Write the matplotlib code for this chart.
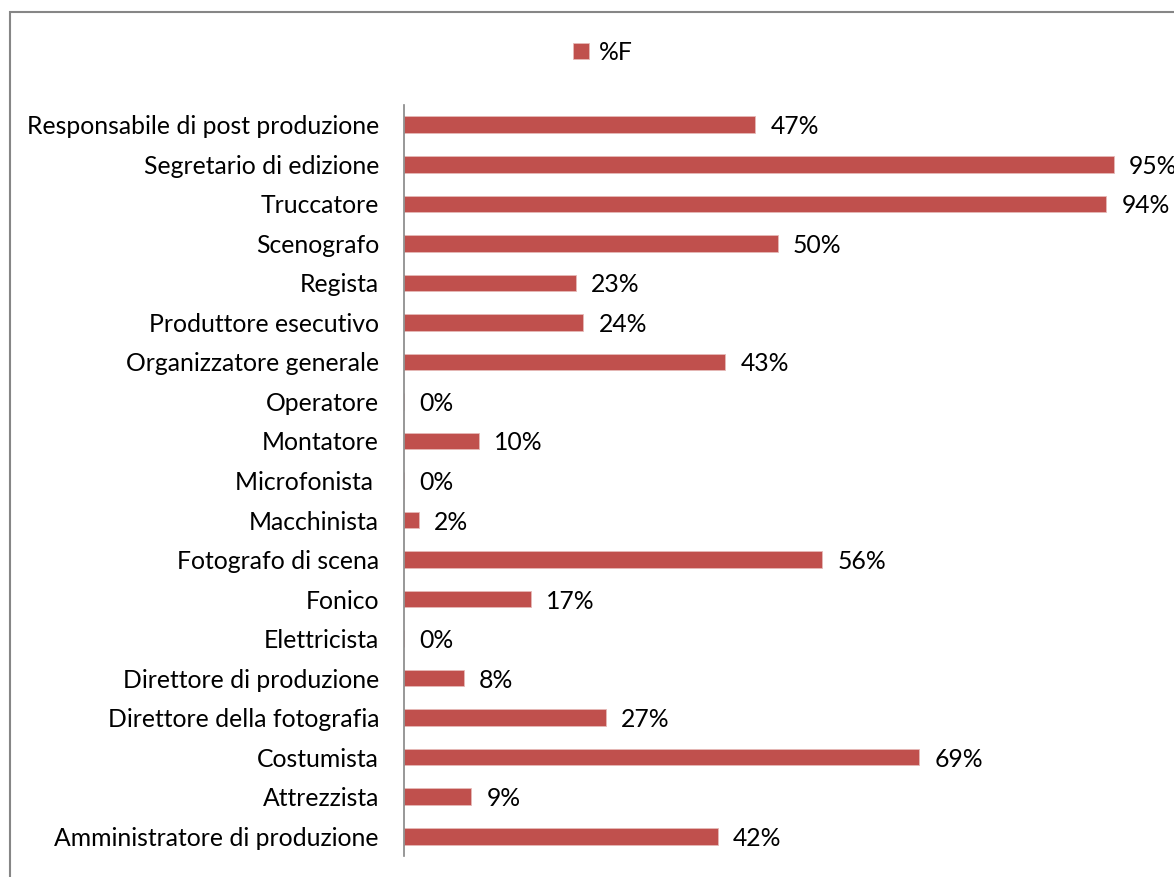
import matplotlib.pyplot as plt
from matplotlib.patches import Rectangle

# job titles, bottom to top as drawn
ruoli = ['Amministratore di produzione', 'Attrezzista', 'Costumista',
         'Direttore della fotografia', 'Direttore di produzione', 'Elettricista',
         'Fonico', 'Fotografo di scena', 'Macchinista', 'Microfonista ',
         'Montatore', 'Operatore', 'Organizzatore generale', 'Produttore esecutivo',
         'Regista', 'Scenografo', 'Truccatore', 'Segretario di edizione',
         'Responsabile di post produzione']
perc_f = [42, 9, 69, 27, 8, 0, 17, 56, 2, 0, 10, 0, 43, 24, 23, 50, 94, 95, 47]

plt.rcParams['font.family'] = ['Lato', 'DejaVu Sans']
fs = 17.8

W, H = 1174, 877
fig = plt.figure(figsize=(W / 100, H / 100), dpi=100)

# chart-area frame (runs off the right and bottom edges)
fig.patches.append(Rectangle((10 / W, -0.05), 1.2, 1 - 12 / H + 0.05,
                             transform=fig.transFigure, fill=False,
                             edgecolor='#868686', linewidth=1.5))

ax = fig.add_axes([404 / W, 1 - 856 / H, 747 / W, 751 / H])
y = range(len(ruoli))
bars = ax.barh(y, [v / 100 for v in perc_f], height=0.42, color='#C0504D',
               edgecolor='#E6B9B8', linewidth=0.6, label='%F')
ax.set_xlim(0, 1)
ax.set_ylim(-0.5, len(ruoli) - 0.5)
ax.set_yticks(list(y))
ax.set_yticklabels(ruoli, fontsize=fs)
ax.tick_params(axis='y', length=0, pad=18)
ax.set_xticks([])
for s in ['top', 'right', 'bottom']:
    ax.spines[s].set_visible(False)
ax.spines['left'].set_color('#868686')
ax.spines['left'].set_linewidth(1.2)

for yi, v in zip(y, perc_f):
    ax.annotate(f'{v}%', (v / 100, yi), xytext=(11, 0), textcoords='offset points',
                va='center_baseline', ha='left', fontsize=fs, annotation_clip=False)

fig.legend(handles=[bars], labels=['%F'], loc='center', bbox_to_anchor=(603 / W, 1 - 52 / H),
           frameon=False, fontsize=fs, handlelength=0.65, handleheight=0.65,
           handletextpad=0.4)

fig.savefig('out.png', dpi=100)
